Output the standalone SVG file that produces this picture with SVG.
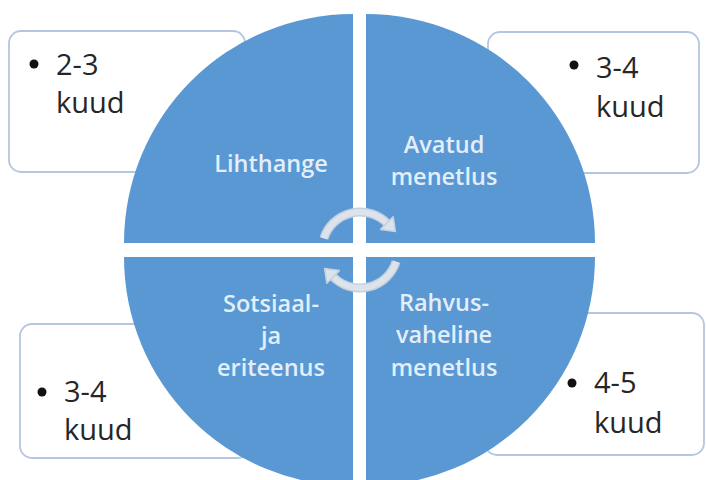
<svg xmlns="http://www.w3.org/2000/svg" width="706" height="480" viewBox="0 0 706 480">
  <defs>
    <style>
      .box { fill: #FFFFFF; stroke: #B4C7DF; stroke-width: 1.8; }
      .quad { fill: #5A98D3; }
      .num { font-family: "Open Sans", "Noto Sans", sans-serif; font-size: 29px; fill: #262626; }
      .lbl { font-family: "Open Sans", "Noto Sans", sans-serif; font-size: 23.5px; font-weight: 600; fill: #E2EEFA; text-anchor: middle; }
      .bul { fill: #111111; }
      .arcO { fill: none; stroke: #C6D0DC; stroke-width: 9; }
      .arcI { fill: none; stroke: #DCE3EC; stroke-width: 6; }
      .head { fill: #DCE3EC; stroke: #C6D0DC; stroke-width: 1.5; stroke-linejoin: round; }
    </style>
  </defs>
  <rect width="706" height="480" fill="#FFFFFF"/>

  <g id="box-tl">
    <rect class="box" x="9" y="31" width="236" height="141" rx="12"/>
    <circle class="bul" cx="34" cy="64" r="4.5"/>
    <text class="num" x="56" y="75">2-3</text>
    <text class="num" x="56" y="113">kuud</text>
  </g>
  <g id="box-tr">
    <rect class="box" x="488" y="32" width="211" height="141" rx="12"/>
    <circle class="bul" cx="574" cy="65" r="4.5"/>
    <text class="num" x="596" y="78">3-4</text>
    <text class="num" x="596" y="117">kuud</text>
  </g>
  <g id="box-bl">
    <rect class="box" x="20" y="324" width="230" height="134" rx="12"/>
    <circle class="bul" cx="42" cy="392" r="4.5"/>
    <text class="num" x="64" y="402">3-4</text>
    <text class="num" x="64" y="440">kuud</text>
  </g>
  <g id="box-br">
    <rect class="box" x="485" y="313" width="219" height="142" rx="12"/>
    <circle class="bul" cx="572" cy="383" r="4.5"/>
    <text class="num" x="594" y="393">4-5</text>
    <text class="num" x="594" y="433">kuud</text>
  </g>

  <g id="q-lihthange">
    <path class="quad" d="M353 243 L124 243 A229 229 0 0 1 353 14 Z"/>
    <text class="lbl" x="271" y="172">Lihthange</text>
  </g>
  <g id="q-avatud">
    <path class="quad" d="M366 243 L366 14 A229 229 0 0 1 595 243 Z"/>
    <text class="lbl" x="444" y="153">Avatud</text>
    <text class="lbl" x="444" y="185">menetlus</text>
  </g>
  <g id="q-sotsiaal">
    <path class="quad" d="M353 257 L353 486 A229 229 0 0 1 124 257 Z"/>
    <text class="lbl" x="271" y="312">Sotsiaal-</text>
    <text class="lbl" x="271" y="344">ja</text>
    <text class="lbl" x="271" y="376">eriteenus</text>
  </g>
  <g id="q-rahvus">
    <path class="quad" d="M366 257 L595 257 A229 229 0 0 1 366 486 Z"/>
    <text class="lbl" x="444" y="311">Rahvus-</text>
    <text class="lbl" x="444" y="343">vaheline</text>
    <text class="lbl" x="444" y="376">menetlus</text>
  </g>

  <g id="connectors">
    <path class="arcO" d="M323.9 238.3 A38 38 0 0 1 386.9 223.1"/>
    <path class="arcI" d="M323.9 238.3 A38 38 0 0 1 386.9 223.1"/>
    <polygon class="head" points="393.2,216.8 380.6,229.4 395.4,231.6"/>
    <path class="arcO" d="M396.1 261.7 A38 38 0 0 1 333.1 276.9"/>
    <path class="arcI" d="M396.1 261.7 A38 38 0 0 1 333.1 276.9"/>
    <polygon class="head" points="326.8,283.2 339.4,270.6 324.6,268.4"/>
  </g>
</svg>
